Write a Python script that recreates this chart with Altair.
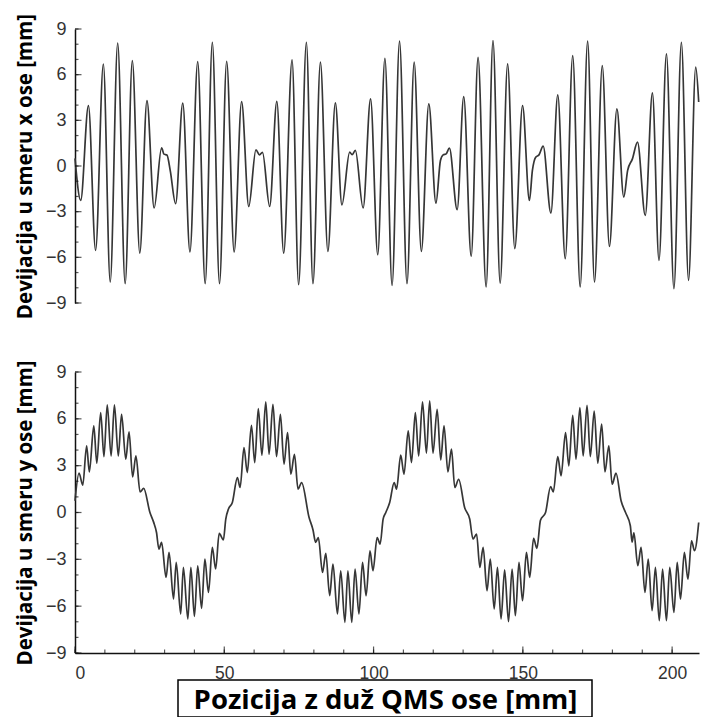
import altair as alt
import pandas as pd

# ---------------- data ----------------
# top panel: deviation in x direction (extrema)
top_pos = [0.0, 1.9, 4.5, 6.9, 9.5, 11.8, 14.3, 16.8, 19.2, 21.7, 24.1, 26.5,
           29.0, 29.8, 30.8, 31.9, 33.7, 36.1, 38.5, 41.1, 43.6, 46.0, 48.4,
           50.8, 53.3, 55.8, 58.2, 60.6, 61.8, 62.8, 65.2, 67.6, 69.9, 72.7,
           74.9, 77.5, 79.7, 82.2, 84.7, 87.2, 89.4, 92.0, 92.8, 93.9, 96.5,
           99.0, 101.4, 103.8, 106.2, 108.7, 111.2, 113.6, 116.0, 118.5, 120.9,
           122.4, 123.3, 124.3, 125.4, 128.0, 130.2, 132.7, 135.0, 137.7, 140.0,
           142.4, 144.9, 147.3, 149.9, 152.2, 153.2, 154.3, 155.4, 156.8, 159.4,
           161.7, 164.2, 166.7, 169.2, 171.7, 174.0, 176.6, 179.0, 181.5, 183.8,
           185.1, 186.7, 188.4, 191.0, 193.4, 195.6, 198.1, 200.6, 203.1, 205.5,
           207.9, 208.9]
top_dev = [0.5, -2.26, 3.97, -5.54, 6.70, -7.62, 8.08, -7.73, 6.92, -5.72, 4.30, -2.76,
           1.19, 0.78, 0.72, -0.30, -2.48, 4.13, -5.65, 6.86, -7.73, 8.13, -7.73,
           6.88, -5.65, 4.23, -2.66, 1.06, 0.73, 0.90, -2.66, 4.25, -5.72, 6.97,
           -7.80, 8.13, -7.73, 6.82, -5.61, 4.15, -2.55, 0.91, 0.75, 1.02, -2.76,
           4.41, -5.83, 7.08, -7.84, 8.20, -7.73, 6.82, -5.61, 4.08, -2.44,
           0.36, 0.73, 0.80, 1.17, -2.87, 4.56, -5.94, 7.14, -7.95, 8.24,
           -7.69, 6.71, -5.43, 3.97, -2.26, -0.29, 0.58, 0.73, 1.30, -3.09,
           4.67, -6.09, 7.25, -7.95, 8.20, -7.62, 6.60, -5.28, 3.75, -2.04,
           -0.29, 0.47, 1.57, -3.25, 4.80, -6.20, 7.36, -8.06, 8.13, -7.51,
           6.49, 4.2]

# bottom panel: deviation in y direction (extrema)
bot_pos = [0.0, 1.35, 2.6, 3.9, 4.8, 6.3, 7.3, 8.6, 9.7, 10.8, 12.1, 13.2, 14.5,
           15.6, 17.0, 18.1, 19.3, 20.4, 21.8, 23.0, 25.1, 26.3, 27.3, 28.1, 29.0,
           30.5, 31.5, 33.0, 33.9, 35.4, 36.3, 37.8, 38.8, 40.0, 41.1, 42.4, 43.5,
           44.7, 46.0, 47.1, 48.3, 49.7, 50.5, 51.4, 52.7, 54.4, 55.3, 56.6, 57.7,
           59.1, 60.2, 61.4, 62.6, 63.9, 65.0, 66.3, 67.5, 68.8, 70.0, 71.2, 72.3,
           73.5, 74.7, 75.9, 78.4, 79.7, 80.6, 81.5, 82.9, 84.0, 85.3, 86.4, 87.9,
           89.0, 90.4, 91.4, 92.7, 93.8, 95.1, 96.3, 97.5, 98.8, 99.8, 101.2, 102.2,
           103.2, 104.1, 105.4, 106.9, 107.7, 109.1, 110.2, 111.6, 112.7, 114.0,
           115.1, 116.4, 117.7, 118.8, 119.9, 121.3, 122.5, 123.6, 124.9, 126.1,
           127.2, 128.5, 130.5, 132.2, 133.3, 134.5, 135.6, 136.7, 138.0, 139.1,
           140.4, 141.5, 142.7, 143.9, 145.2, 146.4, 147.5, 148.7, 149.9, 151.2,
           152.3, 153.6, 154.7, 155.9, 157.6, 159.3, 160.2, 161.7, 162.8, 164.3,
           165.4, 166.7, 167.8, 169.1, 170.2, 171.5, 172.6, 173.9, 175.1, 176.4,
           177.5, 178.8, 179.9, 181.2, 182.9, 184.4, 186.0, 186.6, 187.2, 188.5,
           189.6, 190.9, 192.0, 193.3, 194.4, 195.7, 196.8, 198.1, 199.2, 200.6,
           201.7, 202.8, 204.1, 205.3, 206.5, 207.5, 208.9]
bot_dev = [0.75, 2.52, 1.75, 4.27, 2.60, 5.55, 3.16, 6.40, 3.58, 6.89, 3.62, 6.89, 3.62,
           6.29, 3.41, 5.16, 2.28, 3.63, 1.32, 1.54, 0.0, -0.60, -1.28, -2.34, -1.91,
           -4.16, -2.56, -5.54, -3.20, -6.50, -3.52, -6.82, -3.52, -6.65, -3.41, -6.14, -2.98,
           -5.12, -2.24, -3.62, -1.34, -1.75, -0.42, 0.22, 0.64, 2.24, 1.60, 4.16, 2.56,
           5.59, 3.20, 6.65, 3.67, 7.08, 3.73, 6.93, 3.58, 6.29, 3.10, 5.12, 2.45,
           3.73, 1.50, 1.92, -0.32, -1.10, -1.91, -1.60, -3.84, -2.62, -5.33, -3.30, -6.50,
           -3.73, -7.04, -3.73, -7.04, -3.62, -6.50, -3.20, -5.33, -2.45, -3.73, -1.60, -2.02,
           -0.42, 0.0, 0.64, 1.92, 1.50, 3.67, 2.45, 5.23, 3.20, 6.40,
           3.62, 7.08, 3.80, 7.15, 3.80, 6.61, 3.37, 5.55, 2.60, 4.06,
           1.60, 2.13, 0.32, -0.42, -1.70, -1.38, -3.52, -2.24, -5.01, -2.98,
           -6.18, -3.52, -6.82, -3.67, -6.99, -3.62, -6.61, -3.20, -5.65, -2.56,
           -4.16, -1.66, -2.30, -0.50, 0.0, 1.66, 1.32, 3.58, 2.35, 5.12,
           2.99, 6.23, 3.41, 6.72, 3.62, 6.87, 3.58, 6.50, 3.16, 5.66,
           2.60, 4.27, 1.81, 2.52, 0.75, 0.0, -0.85, -1.90, -1.30, -3.41,
           -2.24, -5.12, -2.98, -6.29, -3.52, -6.93, -3.62, -6.93, -3.52, -6.40,
           -3.20, -5.55, -2.56, -4.27, -1.81, -2.45, -0.64]

y_major = [-9, -6, -3, 0, 3, 6, 9]
y_minor = list(range(-9, 10))
x_major = [0, 50, 100, 150, 200]
x_minor = list(range(0, 210, 10))

title_top = "Devijacija u smeru x ose [mm]"
title_bot = "Devijacija u smeru y ose [mm]"
title_x = "Pozicija z duž QMS ose [mm]"

# ---------------- layout / style ----------------
W = 624
H_TOP = 274
H_BOT = 281
LINE_COLOR = "#363636"
AXIS_COLOR = "#111"
LABEL_FONT = "Liberation Sans"
TITLE_FONT = "Open Sans"
# frame around the x-axis title, in pixels relative to the bottom plot area
BOX_X0, BOX_X1 = 103, 517
BOX_Y0, BOX_Y1 = H_BOT + 27, H_BOT + 64

xs = alt.Scale(domain=[0, 209], nice=False, zero=False)
ys = alt.Scale(domain=[-9, 9], nice=False, zero=False)


def panel(df, ytitle, h, show_x):
    y_axis = alt.Axis(
        orient="left", values=y_major, ticks=False, labelFont=LABEL_FONT,
        labelFontSize=18, labelColor="#333", labelPadding=9, domainColor=AXIS_COLOR,
        domainWidth=1.5, grid=False, title=ytitle, titleFont=TITLE_FONT,
        titleFontSize=20.5, titleFontWeight="bold", titleColor="black",
        titlePadding=10)
    if show_x:
        x_axis = alt.Axis(
            orient="bottom", values=x_major, ticks=False, labelFont=LABEL_FONT,
            labelFontSize=17.5, labelColor="#333", labelPadding=11, domainColor=AXIS_COLOR,
            domainWidth=1.5, grid=False, title=title_x, titleFont=TITLE_FONT,
            titleFontSize=27.5, titleFontWeight="bold", titleColor="black",
            titleBaseline="middle", titleY=(BOX_Y0 + BOX_Y1) / 2 - h + 2,
            titleX=(BOX_X0 + BOX_X1) / 2, titleAnchor="middle", titleAlign="center")
    else:
        x_axis = None

    line = alt.Chart(df).mark_line(
        interpolate="monotone", color=LINE_COLOR, strokeWidth=1.7).encode(
        x=alt.X("z:Q", scale=xs, axis=x_axis),
        y=alt.Y("d:Q", scale=ys, axis=y_axis),
    )
    layers = [line]
    # inward tick marks on the y axis (minor every 1 mm, major every 3 mm)
    for vals, size in ((y_minor, 3.5), (y_major, 6.5)):
        layers.append(
            alt.Chart(pd.DataFrame({"d": vals})).mark_tick(
                color=AXIS_COLOR, thickness=1.2, size=size, orient="horizontal").encode(
                y=alt.Y("d:Q", scale=ys, axis=y_axis),
                x=alt.value(size / 2))
        )
    if show_x:
        for vals, size in ((x_minor, 3.5), (x_major, 6.5)):
            layers.append(
                alt.Chart(pd.DataFrame({"z": vals})).mark_tick(
                    color=AXIS_COLOR, thickness=1.2, size=size, orient="vertical").encode(
                    x=alt.X("z:Q", scale=xs, axis=x_axis),
                    y=alt.value(h - size / 2))
            )
        # frame drawn around the x-axis title
        layers.append(
            alt.Chart(pd.DataFrame({"t": [title_x]})).mark_rect(
                fillOpacity=0, stroke="black", strokeWidth=1.5).encode(
                x=alt.value(BOX_X0), x2=alt.value(BOX_X1),
                y=alt.value(BOX_Y0), y2=alt.value(BOX_Y1))
        )
    return alt.layer(*layers).properties(width=W, height=h)


top = panel(pd.DataFrame({"z": top_pos, "d": top_dev}), title_top, H_TOP, False)
bot = panel(pd.DataFrame({"z": bot_pos, "d": bot_dev}), title_bot, H_BOT, True)

chart = alt.vconcat(top, bot, spacing=39).properties(
    padding={"left": 14, "top": 12, "right": 0, "bottom": 0},
    background="white",
).configure_view(stroke="transparent")

chart.save("out.html", embed_options={"renderer": "svg", "actions": False})
